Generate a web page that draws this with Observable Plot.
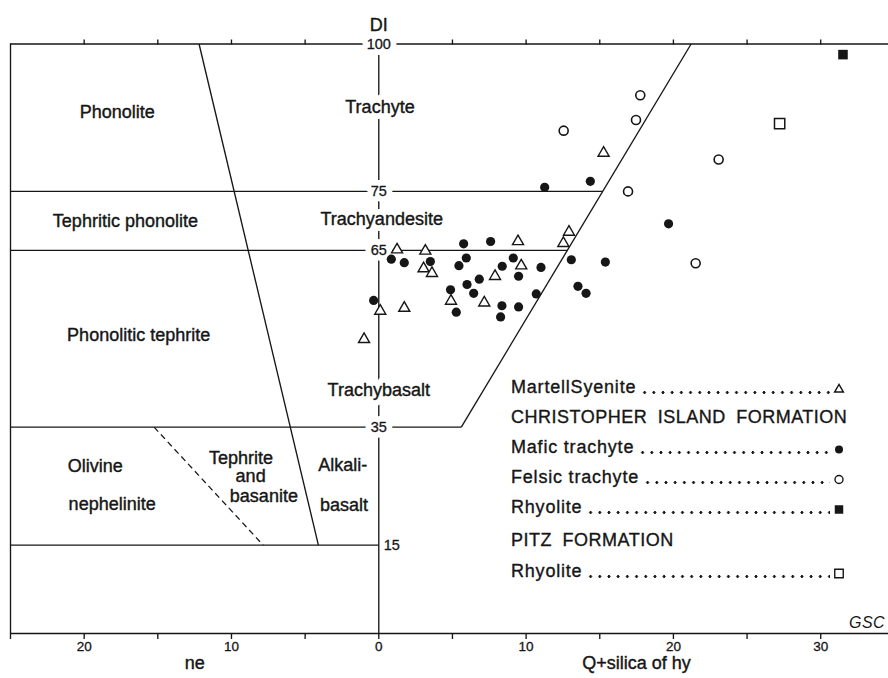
<!DOCTYPE html>
<html>
<head>
<meta charset="utf-8">
<script src="https://cdn.jsdelivr.net/npm/d3@7"></script>
<script src="https://cdn.jsdelivr.net/npm/@observablehq/plot@0.6"></script>
<style>
  html, body { margin: 0; padding: 0; background: #fff; }
  body { font-family: "Liberation Sans", Arial, sans-serif; color: #161616; }
  #wrap { position: relative; width: 888px; height: 678px; overflow: hidden; background: #fff; }
  #wrap svg { display: block; }
  g[aria-label="field labels"] text,
  g[aria-label="axis field labels"] text,
  g[aria-label="axis field halos"] text,
  g[aria-label="axis titles"] text,
  g[aria-label="di title"] text { letter-spacing: 0.8px; }
  .lg-row { position: absolute; left: 511px; width: 335px; height: 22px; line-height: 22px;
            display: flex; font-size: 18px; letter-spacing: 0.8px; white-space: nowrap;
            -webkit-text-stroke: 0.35px #161616; }
  .lg-row.header { letter-spacing: 0.5px; word-spacing: 5px; }
  .lg-lead { flex: 1; margin: 0 2px 0 4px;
             background-image: radial-gradient(circle, #161616 1.2px, rgba(255,255,255,0) 1.7px);
             background-size: 9.2px 3.4px; background-repeat: repeat-x; background-position: 0 15px; }
  .lg-sym { width: 14px; height: 22px; flex: none; }
  .gsc { position: absolute; left: 849px; top: 613px; font-size: 16px; font-style: italic; line-height: 20px; letter-spacing: 0.5px; }
</style>
</head>
<body>
<div id="wrap"></div>
<script>
// ---- data ----
const martellSyenite = [
  [1.24,65.1],[3.16,64.9],[9.45,66.5],[12.91,68.1],[12.53,66.2],[3.04,61.9],[3.61,61.1],
  [9.67,62.4],[7.89,60.6],[4.90,56.4],[7.16,56.1],[0.10,54.7],[1.73,55.2],[-1.00,49.9],[15.26,81.5]
];
const maficTrachyte = [
  [11.26,75.7],[14.36,76.7],[5.76,66.1],[7.59,66.5],[0.85,63.5],[1.73,62.9],[3.50,63.1],
  [5.94,63.7],[5.44,62.4],[9.13,63.7],[8.38,62.3],[13.07,63.4],[15.38,63.0],[11.01,62.1],
  [9.49,60.6],[6.82,60.1],[5.99,59.2],[6.44,57.7],[4.87,58.3],[10.69,57.6],[13.52,58.9],
  [14.07,57.7],[-0.35,56.5],[5.26,54.5],[8.36,55.6],[9.49,55.4],[8.27,53.7],[19.67,69.5]
];
const felsicTrachyte = [[17.75,91.3],[17.46,87.1],[12.55,85.3],[23.07,80.4],[16.92,75.0],[21.51,62.8]];
const christopherRhyolite = [[31.51,98.2]];
const pitzRhyolite = [[27.21,86.5]];

// field boundaries (data units)
const fieldBoundaries = [
  {x1:-25, y1:75, x2:15.2, y2:75},
  {x1:-25, y1:65, x2:12.8, y2:65},
  {x1:-25, y1:35, x2:5.6, y2:35},
  {x1:-25, y1:15, x2:0, y2:15},
  {x1:-12.2, y1:100, x2:-4.1, y2:15},
  {x1:5.6, y1:35, x2:21.2, y2:100}
];
const dashedBoundary = [{x1:-15.25, y1:35, x2:-7.85, y2:15}];

const fieldLabels = [
  {x:-17.75, y:88.4, text:"Phonolite"},
  {x:-17.2, y:69.9, text:"Tephritic phonolite"},
  {x:-16.3, y:50.6, text:"Phonolitic tephrite"},
  {x:-19.25, y:28.3, text:"Olivine"},
  {x:-18.1, y:22.0, text:"nephelinite"},
  {x:-9.35, y:29.8, text:"Tephrite"},
  {x:-8.7, y:26.6, text:"and"},
  {x:-7.8, y:23.3, text:"basanite"},
  {x:-2.44, y:28.5, text:"Alkali-"},
  {x:-2.36, y:21.8, text:"basalt"}
];
const axisFieldLabels = [
  {x:0.08, y:89.2, text:"Trachyte"},
  {x:0.2, y:70.3, text:"Trachyandesite"},
  {x:0.0, y:41.3, text:"Trachybasalt"}
];
const diTicks = [100, 75, 65, 35, 15];
const bottomTicks = [-25,-20,-15,-10,-5,0,5,10,15,20,25,30];
const bottomTickLabels = [-20,-10,0,10,20,30];
const topTicks = [-20,-15,-10,-5,5,10,15,20,25,30];
const axisTitles = [{x:-12.5, text:"ne"}, {x:17.5, text:"Q+silica of hy"}];

const legendRows = [
  {label:"MartellSyenite", symbol:"triangle", filled:false, y:387},
  {label:"CHRISTOPHER ISLAND FORMATION", header:true, y:417},
  {label:"Mafic trachyte", symbol:"circle", filled:true, y:447},
  {label:"Felsic trachyte", symbol:"circle", filled:false, y:477},
  {label:"Rhyolite", symbol:"square", filled:true, y:507},
  {label:"PITZ FORMATION", header:true, y:540},
  {label:"Rhyolite", symbol:"square", filled:false, y:571}
];

// ---- chart ----
const ink = "#161616";
const px = d => d[0], py = d => d[1];
const boldish = {stroke: ink, strokeWidth: 0.4};
const halo = {fill: "#fff", stroke: "#fff", strokeWidth: 12, strokeLinejoin: "round"};

const chart = Plot.plot({
  width: 888,
  height: 678,
  marginLeft: 10,
  marginRight: 0,
  marginTop: 43.5,
  marginBottom: 45,
  x: {domain: [-25, 34.6]},
  y: {domain: [0, 100], axis: null},
  style: {fontFamily: "Liberation Sans, Arial, sans-serif", fontSize: "13.5px", color: ink, background: "#fff"},
  marks: [
    Plot.ruleY([0, 100], {stroke: ink, strokeWidth: 1.35}),
    Plot.ruleX([-25], {stroke: ink, strokeWidth: 1.35}),
    Plot.ruleX([0], {stroke: ink, strokeWidth: 1.35}),
    Plot.link(fieldBoundaries, {x1: "x1", y1: "y1", x2: "x2", y2: "y2", stroke: ink, strokeWidth: 1.35}),
    Plot.link(dashedBoundary, {x1: "x1", y1: "y1", x2: "x2", y2: "y2", stroke: ink, strokeWidth: 1.25, strokeDasharray: "6,4"}),
    Plot.axisX(bottomTicks, {anchor: "bottom", tickSize: 6, stroke: ink, strokeWidth: 1.35, tickFormat: () => "", label: null}),
    Plot.axisX(topTicks, {anchor: "top", tickSize: 5, stroke: ink, strokeWidth: 1.35, tickFormat: () => "", label: null}),
    Plot.text(bottomTickLabels, {x: d => d, frameAnchor: "bottom", dy: 17.5, text: d => String(Math.abs(d)),
      fontSize: 13.5, fill: ink, stroke: ink, strokeWidth: 0.3}),
    // DI tick labels (centred on the DI axis, breaking the lines)
    Plot.text(diTicks.filter(d => d !== 15), {x: () => 0, y: d => d, text: d => String(d), fontSize: 14.5, ...halo}),
    Plot.text(diTicks.filter(d => d !== 15), {x: () => 0, y: d => d, text: d => String(d), fontSize: 14.5, fill: ink, stroke: ink, strokeWidth: 0.3}),
    Plot.text(diTicks.filter(d => d === 15), {x: () => 0, y: d => d, text: d => String(d), fontSize: 14.5, fill: ink,
      stroke: ink, strokeWidth: 0.3, textAnchor: "start", dx: 5}),
    // field names on the DI axis (halo breaks the axis line)
    Plot.text(axisFieldLabels, {x: "x", y: "y", text: "text", fontSize: 18, ariaLabel: "axis field halos", ...halo}),
    Plot.text(axisFieldLabels, {x: "x", y: "y", text: "text", fontSize: 18, fill: ink, ariaLabel: "axis field labels", ...boldish}),
    Plot.text(fieldLabels, {x: "x", y: "y", text: "text", fontSize: 18, fill: ink, ariaLabel: "field labels", ...boldish}),
    Plot.text(["DI"], {x: () => 0, frameAnchor: "top", dy: -25.5, text: d => d, fontSize: 18, fill: ink, ariaLabel: "di title", ...boldish}),
    Plot.text(axisTitles, {x: "x", frameAnchor: "bottom", dy: 35.5, text: "text", fontSize: 18, fill: ink, ariaLabel: "axis titles", ...boldish}),
    // samples
    Plot.dot(maficTrachyte, {x: px, y: py, symbol: "circle", r: 4.6, fill: ink, stroke: "none"}),
    Plot.dot(felsicTrachyte, {x: px, y: py, symbol: "circle", r: 4.5, fill: "#fff", stroke: ink, strokeWidth: 1.6}),
    Plot.dot(christopherRhyolite, {x: px, y: py, symbol: "square", r: 5.4, fill: ink, stroke: "none"}),
    Plot.dot(pitzRhyolite, {x: px, y: py, symbol: "square", r: 5.8, fill: "#fff", stroke: ink, strokeWidth: 1.5}),
    Plot.dot(martellSyenite, {x: px, y: py, symbol: "triangle", r: 4.1, fill: "#fff", stroke: ink, strokeWidth: 1.4})
  ]
});
const wrap = document.getElementById("wrap");
wrap.appendChild(chart);

// ---- legend (HTML overlay) ----
const symTypes = {circle: d3.symbolCircle, square: d3.symbolSquare, triangle: d3.symbolTriangle};
const symSize = {circle: Math.PI * 4 * 4, square: 72, triangle: 34};
for (const row of legendRows) {
  const div = document.createElement("div");
  div.className = "lg-row" + (row.header ? " header" : "");
  div.style.top = (row.y - 11) + "px";
  const span = document.createElement("span");
  span.textContent = row.label;
  div.appendChild(span);
  if (!row.header) {
    const lead = document.createElement("div");
    lead.className = "lg-lead";
    div.appendChild(lead);
    const svg = d3.create("svg").attr("class", "lg-sym").attr("width", 14).attr("height", 22);
    svg.append("path")
      .attr("transform", "translate(7,13.5)")
      .attr("d", d3.symbol(symTypes[row.symbol], symSize[row.symbol])())
      .attr("fill", row.filled ? ink : "#fff")
      .attr("stroke", row.filled ? "none" : ink)
      .attr("stroke-width", 1.4);
    div.appendChild(svg.node());
  }
  wrap.appendChild(div);
}
const gsc = document.createElement("div");
gsc.className = "gsc";
gsc.textContent = "GSC";
wrap.appendChild(gsc);
</script>
</body>
</html>
